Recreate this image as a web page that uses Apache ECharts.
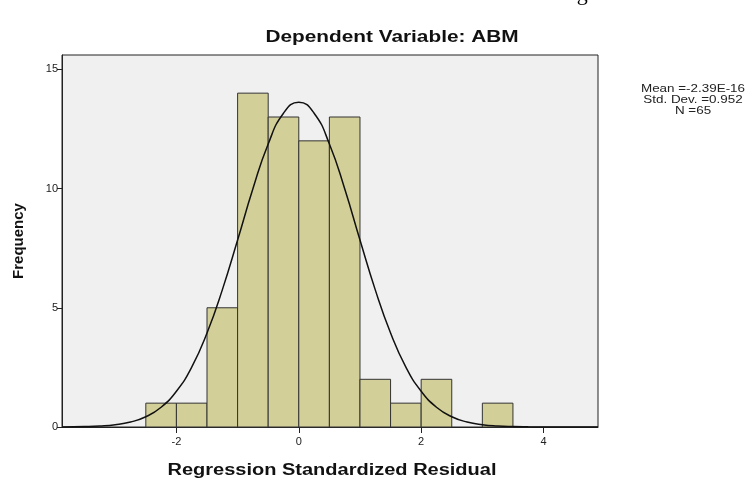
<!DOCTYPE html>
<html>
<head>
<meta charset="utf-8">
<script src="https://cdn.jsdelivr.net/npm/echarts@6/dist/echarts.min.js"></script>
<style>html,body{margin:0;padding:0;background:#fff}#c{width:750px;height:484px}</style>
</head>
<body>
<div id="c"></div>
<script>
// Histogram bins (left edge, width 0.5) and counts
const binStarts = [-2.5, -2.0, -1.5, -1.0, -0.5, 0.0, 0.5, 1.0, 1.5, 2.0, 3.0];
const binCounts = [1, 1, 5, 14, 13, 12, 13, 2, 1, 2, 1];
const binWidth = 0.5;
// Normal curve
const curveX = [-3.87, -3.5, -3.25, -3.0, -2.75, -2.5, -2.25, -2.0, -1.75, -1.5, -1.25, -1.0, -0.75, -0.5, -0.25, 0.0, 0.25, 0.5, 0.75, 1.0, 1.25, 1.5, 1.75, 2.0, 2.25, 2.5, 2.75, 3.0, 3.25, 3.5, 3.75, 4.0, 4.4, 4.89];
const curveY = [0.002, 0.016, 0.04, 0.095, 0.21, 0.43, 0.83, 1.50, 2.51, 3.94, 5.75, 7.84, 9.99, 11.87, 13.16, 13.62, 13.16, 11.87, 9.99, 7.84, 5.75, 3.94, 2.51, 1.50, 0.83, 0.43, 0.21, 0.095, 0.04, 0.016, 0.006, 0.002, 0.0003, 0.0];
const xTicks = [-2, 0, 2, 4];
const yTicks = [0, 5, 10, 15];
const titleText = 'Dependent Variable: ABM';
const xName = 'Regression Standardized Residual';
const yName = 'Frequency';
const statsLines = ['Mean =-2.39E-16', 'Std. Dev. =0.952', 'N =65'];

const chart = echarts.init(document.getElementById('c'), null, {renderer: 'canvas'});
const font = 'Liberation Sans, Arial, sans-serif';
const option = {
  animation: false,
  backgroundColor: '#ffffff',
  graphic: [
    {type: 'text', x: 622, y: 5,
     style: {text: 'Histogram', font: '22px "Liberation Serif", serif', fill: '#000', align: 'right', verticalAlign: 'bottom'}},
    {type: 'text', x: 392, y: 38, scaleX: 1.3,
     style: {text: titleText, font: 'bold 16px ' + font, fill: '#111', align: 'center', verticalAlign: 'middle'}},
    {type: 'text', x: 332, y: 471, scaleX: 1.25,
     style: {text: xName, font: 'bold 16px ' + font, fill: '#111', align: 'center', verticalAlign: 'middle'}},
    {type: 'text', x: 693, y: 83, scaleX: 1.22,
     style: {text: statsLines.join('\n'), font: '11px ' + font, fill: '#222', align: 'center', lineHeight: 11}}
  ],
  grid: {left: 62, right: 152, top: 55, bottom: 57, show: true, backgroundColor: '#f0f0f0', borderColor: '#222', borderWidth: 1},
  xAxis: {
    type: 'value', min: -3.87, max: 4.89,
    splitLine: {show: false},
    axisLine: {show: true, onZero: false, lineStyle: {color: '#222', width: 1}},
    axisTick: {show: true, length: 6, customValues: xTicks, lineStyle: {color: '#222'}},
    axisLabel: {customValues: xTicks, fontFamily: font, fontSize: 11, color: '#222', margin: 9}
  },
  yAxis: {
    type: 'value', min: 0, max: 15.6,
    name: yName, nameLocation: 'middle', nameGap: 36, nameRotate: 90,
    nameTextStyle: {fontFamily: font, fontSize: 15, fontWeight: 'bold', color: '#111'},
    splitLine: {show: false},
    axisLine: {show: true, onZero: false, lineStyle: {color: '#222', width: 1}},
    axisTick: {show: true, length: 5, customValues: yTicks, lineStyle: {color: '#222'}},
    axisLabel: {customValues: yTicks, fontFamily: font, fontSize: 11, color: '#222', margin: 4}
  },
  series: [
    {
      type: 'custom',
      data: binStarts.map((s, i) => [s, binCounts[i]]),
      renderItem: function (params, api) {
        const x0 = api.value(0), c = api.value(1);
        const p0 = api.coord([x0, c]);
        const p1 = api.coord([x0 + binWidth, 0]);
        return {
          type: 'rect',
          shape: {x: p0[0], y: p0[1], width: p1[0] - p0[0], height: p1[1] - p0[1]},
          style: {fill: '#d3cf98', stroke: '#333', lineWidth: 1}
        };
      },
      z: 2
    },
    {
      type: 'line', smooth: true, symbol: 'none', z: 3,
      data: curveX.map((x, i) => [x, curveY[i]]),
      lineStyle: {color: '#111', width: 1.5}
    }
  ]
};
chart.setOption(option);
</script>
</body>
</html>
